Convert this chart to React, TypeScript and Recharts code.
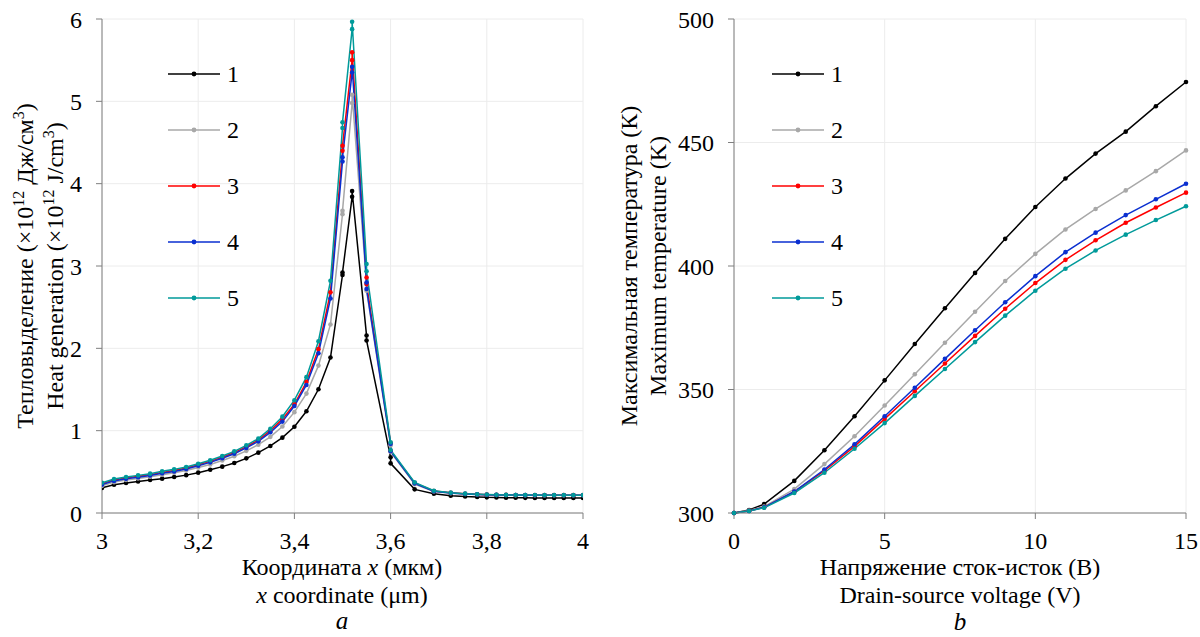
import React from 'react';
import { LineChart, Line, XAxis, YAxis, CartesianGrid, Legend } from 'recharts';

// ---------- data: left chart (heat generation vs coordinate) ----------
const heatX = [
  3.0, 3.025, 3.05, 3.075, 3.1, 3.125, 3.15, 3.175, 3.2, 3.225, 3.25, 3.275, 3.3, 3.325, 3.35, 3.375, 3.4, 3.425, 3.45, 3.475,
  3.5, 3.5, 3.52, 3.52, 3.55, 3.55, 3.6, 3.6,
  3.65, 3.69, 3.725, 3.755,
  3.78, 3.8, 3.82, 3.84, 3.86, 3.88, 3.9, 3.92, 3.94, 3.96, 3.98, 4.0,
];
const heat1 = [
  0.305, 0.344, 0.364, 0.384, 0.4, 0.417, 0.437, 0.46, 0.49, 0.526, 0.563, 0.607, 0.664, 0.733, 0.814, 0.915, 1.048, 1.236, 1.503, 1.888,
  2.89, 2.92, 3.84, 3.91, 2.155, 2.096, 0.676, 0.603,
  0.287, 0.235, 0.21, 0.2,
  0.195, 0.19, 0.188, 0.186, 0.185, 0.184, 0.183, 0.183, 0.182, 0.182, 0.182, 0.182,
];
const heat2 = [
  0.33, 0.375, 0.4, 0.42, 0.44, 0.465, 0.488, 0.515, 0.552, 0.59, 0.637, 0.69, 0.755, 0.83, 0.925, 1.05, 1.225, 1.45, 1.79, 2.29,
  3.63, 3.67, 4.98, 5.08, 2.78, 2.7, 0.82, 0.74,
  0.35, 0.262, 0.24, 0.23,
  0.224, 0.221, 0.219, 0.218, 0.217, 0.216, 0.215, 0.215, 0.215, 0.215, 0.215, 0.215,
];
const heat3 = [
  0.355, 0.4, 0.425, 0.445, 0.466, 0.493, 0.517, 0.547, 0.587, 0.627, 0.678, 0.734, 0.805, 0.886, 1.0, 1.14, 1.32, 1.59, 1.99, 2.68,
  4.4, 4.46, 5.5, 5.595, 2.86, 2.78, 0.85, 0.755,
  0.365, 0.268, 0.245, 0.233,
  0.227, 0.223, 0.221, 0.22, 0.219, 0.218, 0.217, 0.217, 0.217, 0.217, 0.217, 0.217,
];
const heat4 = [
  0.345, 0.39, 0.415, 0.435, 0.455, 0.482, 0.505, 0.535, 0.575, 0.615, 0.665, 0.72, 0.79, 0.87, 0.98, 1.11, 1.3, 1.555, 1.94, 2.605,
  4.27, 4.32, 5.35, 5.42, 2.8, 2.72, 0.84, 0.75,
  0.36, 0.265, 0.243, 0.232,
  0.226, 0.222, 0.22, 0.219, 0.218, 0.217, 0.216, 0.216, 0.216, 0.216, 0.216, 0.216,
];
const heat5 = [
  0.368, 0.413, 0.437, 0.457, 0.478, 0.506, 0.53, 0.559, 0.599, 0.64, 0.692, 0.749, 0.822, 0.903, 1.024, 1.17, 1.37, 1.65, 2.086, 2.82,
  4.676, 4.745, 5.877, 5.966, 3.025, 2.936, 0.858, 0.765,
  0.372, 0.271, 0.247, 0.235,
  0.228, 0.224, 0.222, 0.22, 0.219, 0.218, 0.218, 0.217, 0.217, 0.217, 0.217, 0.217,
];
const heatXTicks = [3, 3.2, 3.4, 3.6, 3.8, 4];
const heatYTicks = [0, 1, 2, 3, 4, 5, 6];

// ---------- data: right chart (max temperature vs voltage) ----------
const voltage = [0, 0.5, 1, 2, 3, 4, 5, 6, 7, 8, 9, 10, 11, 12, 13, 14, 15];
const temp1 = [300, 301.2, 303.6, 313.0, 325.4, 339.2, 353.7, 368.4, 382.9, 397.2, 411.0, 423.9, 435.4, 445.5, 454.4, 464.7, 474.5];
const temp2 = [300, 301.0, 302.6, 309.7, 319.8, 331.1, 343.5, 356.2, 368.9, 381.5, 393.9, 404.9, 414.8, 423.1, 430.6, 438.4, 446.8];
const temp3 = [300, 300.8, 302.3, 308.6, 317.1, 327.0, 338.1, 349.3, 360.5, 371.7, 382.7, 393.1, 402.5, 410.4, 417.5, 423.7, 429.7];
const temp4 = [300, 300.8, 302.3, 308.7, 317.6, 327.8, 339.2, 350.7, 362.4, 374.0, 385.3, 395.9, 405.6, 413.5, 420.6, 427.0, 433.3];
const temp5 = [300, 300.8, 302.1, 308.1, 316.3, 326.0, 336.4, 347.4, 358.3, 369.2, 379.9, 390.0, 398.9, 406.3, 412.7, 418.6, 424.2];
const voltXTicks = [0, 5, 10, 15];
const tempYTicks = [300, 350, 400, 450, 500];

const seriesNames = ['1', '2', '3', '4', '5'];
const seriesKeys = ['s1', 's2', 's3', 's4', 's5'];
const seriesColors = ['#000000', '#a8a8a8', '#ff0000', '#0a2fd0', '#009a9a'];

const heatSeries = [heat1, heat2, heat3, heat4, heat5];
const tempSeries = [temp1, temp2, temp3, temp4, temp5];

const heatData = heatX.map((x, i) => {
  const row: Record<string, number> = { x };
  seriesKeys.forEach((k, j) => (row[k] = heatSeries[j][i]));
  return row;
});
const tempData = voltage.map((x, i) => {
  const row: Record<string, number> = { x };
  seriesKeys.forEach((k, j) => (row[k] = tempSeries[j][i]));
  return row;
});

const FONT = "'Liberation Serif'";
const FS = 24;
const AXIS_COLOR = '#7f7f7f';
const GRID_COLOR = '#ececec';

const tickStyle = { fontSize: FS, fill: '#000', style: { fontFamily: FONT } };

const renderLegend = (props: any) => {
  const payload = [...(props.payload || [])].sort((a: any, b: any) => String(a.value).localeCompare(String(b.value)));
  return (
    <div>
      {payload.map((entry: any) => (
        <div key={entry.value} style={{ height: 56, display: 'flex', alignItems: 'center' }}>
          <svg width={52} height={10} style={{ display: 'block' }}>
            <line x1={0} y1={5} x2={52} y2={5} stroke={entry.color} strokeWidth={1.5} />
            <circle cx={26} cy={5} r={2.4} fill={entry.color} />
          </svg>
          <span style={{ marginLeft: 7, fontFamily: FONT, fontSize: FS, lineHeight: '24px', color: '#000' }}>{entry.value}</span>
        </div>
      ))}
    </div>
  );
};

const commaFmt = (v: number) => String(v).replace('.', ',');

function HeatChart() {
  return (
    <LineChart width={600} height={637} data={heatData} margin={{ top: 19, right: 17, bottom: 94, left: 0 }} style={{ fontFamily: FONT }}>
      <CartesianGrid stroke={GRID_COLOR} strokeWidth={1} />
      <XAxis
        dataKey="x"
        type="number"
        domain={[3, 4]}
        allowDataOverflow
        ticks={heatXTicks}
        tickFormatter={commaFmt}
        height={30}
        tick={tickStyle}
        tickSize={6}
        tickMargin={13}
        stroke={AXIS_COLOR}
        axisLine={{ stroke: AXIS_COLOR }}
        tickLine={{ stroke: AXIS_COLOR }}
      />
      <YAxis
        type="number"
        domain={[0, 6]}
        ticks={heatYTicks}
        width={102}
        tick={tickStyle}
        tickSize={6}
        tickMargin={14}
        stroke={AXIS_COLOR}
        axisLine={{ stroke: AXIS_COLOR }}
        tickLine={{ stroke: AXIS_COLOR }}
      />
      <Legend
        layout="vertical"
        align="center"
        verticalAlign="middle"
        content={renderLegend}
        wrapperStyle={{ left: 168, top: 46, width: 80, height: 280 }}
      />
      {seriesKeys.map((k, j) => (
        <Line
          key={k}
          dataKey={k}
          name={seriesNames[j]}
          type="linear"
          stroke={seriesColors[j]}
          strokeWidth={1.5}
          dot={{ r: 2.3, fill: seriesColors[j], stroke: 'none' }}
          isAnimationActive={false}
        />
      ))}
    </LineChart>
  );
}

function TempChart() {
  return (
    <LineChart width={600} height={637} data={tempData} margin={{ top: 19, right: 14, bottom: 94, left: 0 }} style={{ fontFamily: FONT }}>
      <CartesianGrid stroke={GRID_COLOR} strokeWidth={1} />
      <XAxis
        dataKey="x"
        type="number"
        domain={[0, 15]}
        ticks={voltXTicks}
        height={30}
        tick={tickStyle}
        tickSize={6}
        tickMargin={13}
        stroke={AXIS_COLOR}
        axisLine={{ stroke: AXIS_COLOR }}
        tickLine={{ stroke: AXIS_COLOR }}
      />
      <YAxis
        type="number"
        domain={[300, 500]}
        ticks={tempYTicks}
        width={134}
        tick={tickStyle}
        tickSize={6}
        tickMargin={14}
        stroke={AXIS_COLOR}
        axisLine={{ stroke: AXIS_COLOR }}
        tickLine={{ stroke: AXIS_COLOR }}
      />
      <Legend
        layout="vertical"
        align="center"
        verticalAlign="middle"
        content={renderLegend}
        wrapperStyle={{ left: 172, top: 46, width: 80, height: 280 }}
      />
      {seriesKeys.map((k, j) => (
        <Line
          key={k}
          dataKey={k}
          name={seriesNames[j]}
          type="linear"
          stroke={seriesColors[j]}
          strokeWidth={1.5}
          dot={{ r: 2.3, fill: seriesColors[j], stroke: 'none' }}
          isAnimationActive={false}
        />
      ))}
    </LineChart>
  );
}

function Titles() {
  const t = { fontSize: FS, fill: '#000', style: { fontFamily: FONT } } as const;
  const sup = 16;
  return (
    <svg width={1200} height={637} style={{ position: 'absolute', left: 0, top: 0, pointerEvents: 'none' }}>
      {/* left chart */}
      <text x={342} y={575} textAnchor="middle" {...t}>
        Координата <tspan fontStyle="italic">x</tspan> (мкм)
      </text>
      <text x={342} y={603} textAnchor="middle" {...t}>
        <tspan fontStyle="italic">x</tspan> coordinate (μm)
      </text>
      <text x={342} y={629} textAnchor="middle" {...t} fontStyle="italic" fontSize={25}>a</text>
      <text transform="translate(33,266) rotate(-90)" textAnchor="middle" {...t}>
        Тепловыделение (×10<tspan dy={-9} fontSize={sup}>12</tspan>
        <tspan dy={9}> Дж/см</tspan>
        <tspan dy={-9} fontSize={sup}>3</tspan>
        <tspan dy={9}>)</tspan>
      </text>
      <text transform="translate(63,266) rotate(-90)" textAnchor="middle" {...t}>
        Heat generation (×10<tspan dy={-9} fontSize={sup}>12</tspan>
        <tspan dy={9}> J/cm</tspan>
        <tspan dy={-9} fontSize={sup}>3</tspan>
        <tspan dy={9}>)</tspan>
      </text>
      {/* right chart */}
      <text x={960} y={575} textAnchor="middle" {...t}>Напряжение сток-исток (В)</text>
      <text x={960} y={603} textAnchor="middle" {...t}>Drain-source voltage (V)</text>
      <text x={960} y={630} textAnchor="middle" {...t} fontStyle="italic" fontSize={25}>b</text>
      <text transform="translate(637,266) rotate(-90)" textAnchor="middle" {...t}>Максимальная температура (К)</text>
      <text transform="translate(666,266) rotate(-90)" textAnchor="middle" {...t}>Maximum temperature (K)</text>
    </svg>
  );
}

export default function App() {
  return (
    <div style={{ position: 'absolute', left: 0, top: 0, width: 1200, height: 637, background: '#fff', overflow: 'hidden' }}>
      <div style={{ position: 'absolute', left: 0, top: 0 }}>
        <HeatChart />
      </div>
      <div style={{ position: 'absolute', left: 600, top: 0 }}>
        <TempChart />
      </div>
      <Titles />
    </div>
  );
}
